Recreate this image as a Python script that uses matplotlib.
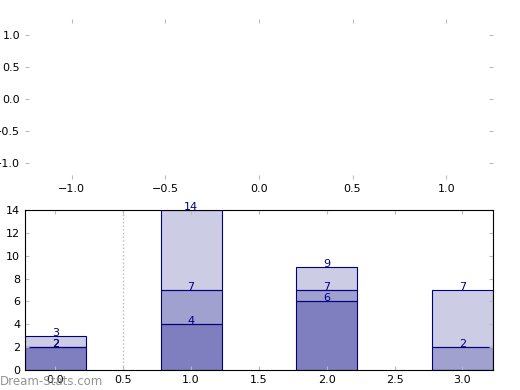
import matplotlib
matplotlib.use('Agg')
import matplotlib.pyplot as plt
import numpy as np

# stacked bar data (cumulative tops are labelled)
positions = [0, 1, 2, 3]
layer1 = [2, 4, 6, 0]
layer2 = [0, 3, 1, 2]
layer3 = [1, 7, 2, 5]
alphas = [0.5, 0.37, 0.2]

fig = plt.figure(figsize=(5.2, 3.9), dpi=100)

# top: empty axes, no frame
ax1 = fig.add_axes([0.048, 0.541, 0.9, 0.41])
ax1.set_xlim(-1.25, 1.25)
ax1.set_ylim(-1.25, 1.25)
ax1.set_xticks([-1.0, -0.5, 0.0, 0.5, 1.0])
ax1.set_yticks([-1.0, -0.5, 0.0, 0.5, 1.0])
for s in ax1.spines.values():
    s.set_visible(False)
ax1.tick_params(direction='in', color='#bbbbbb', labelsize=8, top=True, right=True, length=3)

# bottom: stacked bars
ax2 = fig.add_axes([0.048, 0.0513, 0.9, 0.41])
bottom = np.zeros(len(positions))
for vals, a in zip([layer1, layer2, layer3], alphas):
    vals = np.array(vals, dtype=float)
    ax2.bar(positions, vals, width=0.45, bottom=bottom, color='navy', alpha=a,
            edgecolor='none')
    ax2.bar(positions, vals, width=0.45, bottom=bottom, fill=False,
            edgecolor='navy', linewidth=0.8)
    bottom = bottom + vals
    for x, v, top in zip(positions, vals, bottom):
        if top > 0:
            ax2.text(x, top, '%d' % top, ha='center', va='baseline', color='navy',
                     fontsize=8)

ax2.axvline(0.5, color='#bbbbbb', linestyle=':', linewidth=1)
ax2.set_xlim(-0.225, 3.225)
ax2.set_ylim(0, 14)
ax2.set_xticks([0.0, 0.5, 1.0, 1.5, 2.0, 2.5, 3.0])
ax2.set_yticks(range(0, 15, 2))
ax2.set_xticklabels(['0.0', '0.5', '1.0', '1.5', '2.0', '2.5', '3.0'])
ax2.tick_params(direction='in', color='#bbbbbb', labelsize=8, top=True, right=True, length=3)

fig.text(0.0, 0.012, 'Dream-Stats.com', color='#888888', fontsize=8.5, alpha=0.9)

fig.savefig('out.png', dpi=100)
